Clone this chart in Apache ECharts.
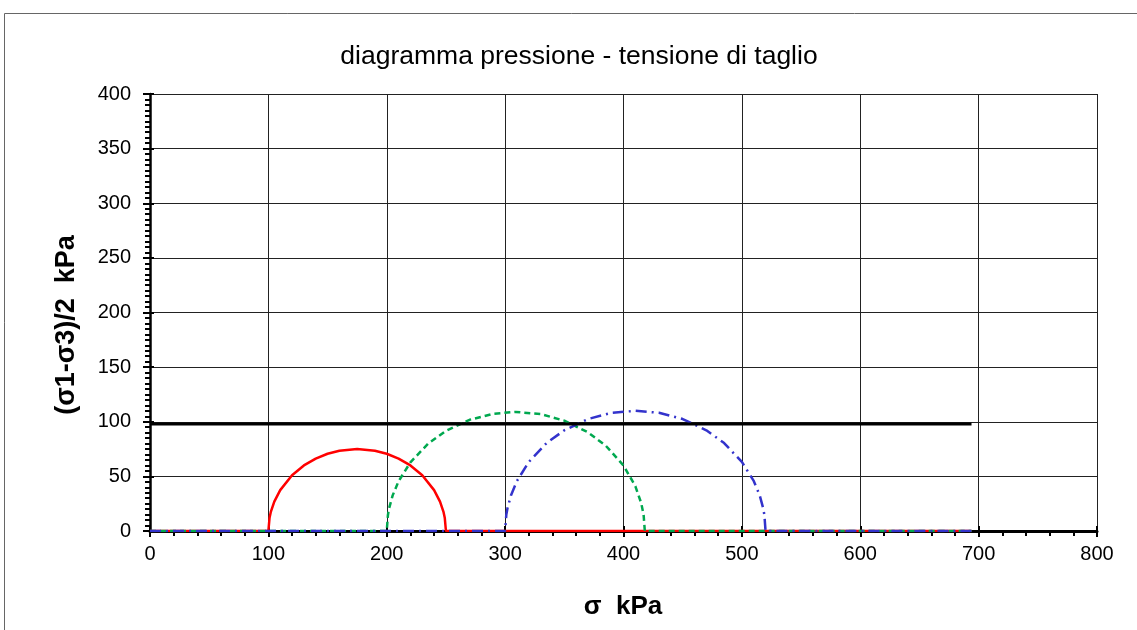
<!DOCTYPE html>
<html>
<head>
<meta charset="utf-8">
<script src="https://cdn.jsdelivr.net/npm/echarts@6/dist/echarts.min.js"></script>
<style>html,body{margin:0;padding:0;background:#fff;}#c{width:1137px;height:630px;}</style>
</head>
<body>
<div id="c"></div>
<script>
const titleText = 'diagramma pressione - tensione di taglio';
const xName = 'σ  kPa';
const yName = '(σ1-σ3)/2  kPa';

const sigmaRed = [0, 100, 101, 102, 105, 110, 120, 130, 140, 150, 160, 175, 190, 200, 210, 220, 230, 240, 245, 248, 249, 250, 694];
const tauRed   = [0, 0, 12.2, 17.2, 26.9, 37.4, 51.0, 60.0, 66.3, 70.7, 73.5, 75, 73.5, 70.7, 66.3, 60.0, 51.0, 37.4, 26.9, 17.2, 12.2, 0, 0];

const sigmaGreen = [0, 200, 201, 202, 205, 210, 220, 235, 250, 270, 290, 309, 330, 350, 370, 385, 400, 410, 415, 417, 418, 694];
const tauGreen   = [0, 0, 14.7, 20.8, 32.6, 45.6, 62.9, 80.0, 91.7, 101.8, 107.3, 109, 107.0, 101.0, 90.3, 78.1, 60.0, 41.0, 25.4, 14.7, 0, 0];

const sigmaBlue = [0, 300, 301, 302, 305, 310, 320, 335, 350, 370, 390, 410, 430, 450, 470, 485, 500, 510, 515, 518, 519, 520, 694];
const tauBlue   = [0, 0, 14.8, 20.9, 32.8, 45.8, 63.2, 80.5, 92.2, 102.5, 108.2, 110, 108.2, 102.5, 92.2, 80.5, 63.2, 45.8, 32.8, 20.9, 14.8, 0, 0];

const sigmaEnv = [0, 694];
const tauEnv   = [98, 98];

function pairs(xs, ys) { return xs.map((x, i) => [x, ys[i]]); }

const FONT = "'Liberation Sans', Arial, sans-serif";
const chart = echarts.init(document.getElementById('c'), null, {renderer: 'canvas'});

const gridL = 150, gridT = 94, gridR = 40, gridB = 99;

chart.setOption({
  animation: false,
  backgroundColor: '#fff',
  grid: {left: gridL, top: gridT, right: gridR, bottom: gridB, containLabel: false},
  xAxis: [{
    type: 'value', min: 0, max: 800, interval: 100,
    axisLine: {show: true, onZero: false, lineStyle: {color: '#000', width: 3}},
    axisTick: {show: true, inside: false, length: 6, lineStyle: {color: '#000', width: 2}},
    minorTick: {show: true, splitNumber: 5, length: 5, lineStyle: {color: '#000', width: 2}},
    axisLabel: {color: '#000', fontSize: 20, fontFamily: FONT, margin: 13},
    splitLine: {show: true, lineStyle: {color: '#222', width: 1}}
  }, {
    type: 'value', min: 0, max: 800, interval: 100, position: 'bottom',
    axisLine: {show: false},
    axisTick: {show: true, inside: true, length: 5, lineStyle: {color: '#000', width: 2}},
    axisLabel: {show: false}, splitLine: {show: false}
  }],
  yAxis: [{
    type: 'value', min: 0, max: 400, interval: 50,
    axisLine: {show: true, onZero: false, lineStyle: {color: '#000', width: 2.5}},
    axisTick: {show: true, inside: false, length: 7, lineStyle: {color: '#000', width: 2}},
    minorTick: {show: true, splitNumber: 10, length: 5, lineStyle: {color: '#000', width: 2}},
    axisLabel: {color: '#000', fontSize: 20, fontFamily: FONT, margin: 19},
    splitLine: {show: true, lineStyle: {color: '#222', width: 1}}
  }, {
    type: 'value', min: 0, max: 400, interval: 50, position: 'left',
    axisLine: {show: false},
    axisTick: {show: true, inside: true, length: 4, lineStyle: {color: '#000', width: 2}},
    axisLabel: {show: false}, splitLine: {show: false}
  }],
  series: [
    {type: 'line', data: pairs(sigmaRed, tauRed), showSymbol: false, symbol: 'none',
     lineStyle: {color: '#ff0000', width: 2.5}, z: 3},
    {type: 'line', data: pairs(sigmaGreen, tauGreen), showSymbol: false, symbol: 'none',
     lineStyle: {color: '#00a84f', width: 2.5, type: [6, 4]}, z: 4},
    {type: 'line', data: pairs(sigmaBlue, tauBlue), showSymbol: false, symbol: 'none',
     lineStyle: {color: '#3333cc', width: 2.5, type: [11, 5, 2, 5]}, z: 5},
    {type: 'line', data: pairs(sigmaEnv, tauEnv), showSymbol: false, symbol: 'none',
     lineStyle: {color: '#000', width: 3}, z: 6}
  ],
  graphic: [
    {type: 'rect', shape: {x: 4.5, y: 13.5, width: 1300, height: 800},
     style: {fill: null, stroke: '#666', lineWidth: 1}, z: -10, silent: true},
    {type: 'text', x: 579, y: 57, style: {text: titleText, font: '26.5px ' + FONT, fill: '#000',
      textAlign: 'center', textVerticalAlign: 'middle'}},
    {type: 'text', x: 623, y: 607, style: {text: xName, font: 'bold 26px ' + FONT, fill: '#000',
      textAlign: 'center', textVerticalAlign: 'middle'}},
    {type: 'text', x: 67, y: 325, rotation: Math.PI / 2, style: {text: yName, font: 'bold 27px ' + FONT, fill: '#000',
      textAlign: 'center', textVerticalAlign: 'middle'}}
  ]
});
</script>
</body>
</html>
